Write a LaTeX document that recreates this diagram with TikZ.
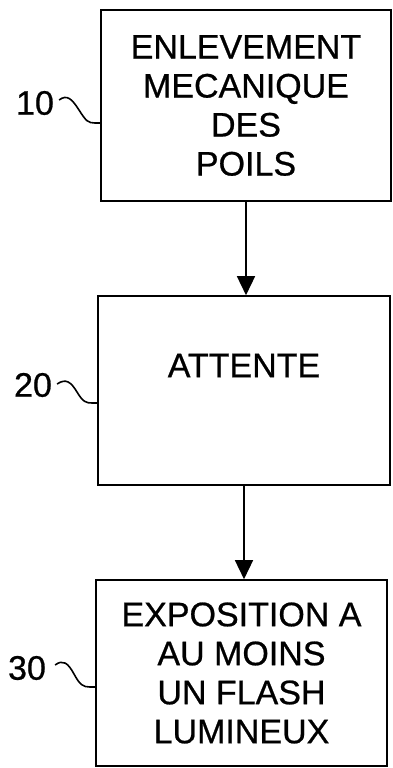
\documentclass[tikz,border=0pt]{standalone}
\usepackage{fontspec}
\setmainfont{Liberation Sans}
\newfontfamily\diagfont{Liberation Sans}[FakeBold=0.7]
\usetikzlibrary{arrows.meta}
\begin{document}
\begin{tikzpicture}[x=1pt,y=-1pt,
  box/.style={draw,line width=1.6pt,rectangle,inner sep=0pt,align=center,
    font=\diagfont\fontsize{34}{39}\selectfont},
  reflabel/.style={inner sep=0pt,font=\diagfont\fontsize{34}{39}\selectfont},
  lead/.style={line width=1.6pt},
  flow/.style={line width=1.5pt,-{Triangle[length=19pt,width=18pt]}}]
\useasboundingbox (0,0) rectangle (392,768);
\node[box,minimum width=290pt,minimum height=191pt] (b1) at (246,105.5)
  {ENLEVEMENT\\MECANIQUE\\DES\\POILS};
\node[box,minimum width=292pt,minimum height=189pt] (b2) at (244,390.5)
  {ATTENTE\\[11pt]~};
\node[box,minimum width=291pt,minimum height=186pt] (b3) at (241.5,673)
  {EXPOSITION A\\AU MOINS\\UN FLASH\\LUMINEUX};
\node[reflabel] (l1) at (35,103) {10};
\node[reflabel] (l2) at (33,385) {20};
\node[reflabel] (l3) at (27,668) {30};
\coordinate (c1) at (b1.west |- 0,123);
\coordinate (c2) at (b2.west |- 0,403);
\coordinate (c3) at (b3.west |- 0,687);
\draw[lead] (l1.east) ++(5,-3) .. controls (67,94) and (72,99) .. (79,110)
  .. controls (86,121) and (88,123) .. (95,123) -- (c1);
\draw[lead] (l2.east) ++(5,-1) .. controls (66,378) and (71,382) .. (77,392)
  .. controls (83,402) and (86,403) .. (92,403) -- (c2);
\draw[lead] (l3.east) ++(9,-3) .. controls (63,659) and (68,663) .. (74,674)
  .. controls (80,685) and (83,687) .. (90,687) -- (c3);
\draw[flow] (b1.south) -- (b1.south |- b2.north);
\draw[flow] (b2.south) -- (b2.south |- b3.north);
\end{tikzpicture}
\end{document}
